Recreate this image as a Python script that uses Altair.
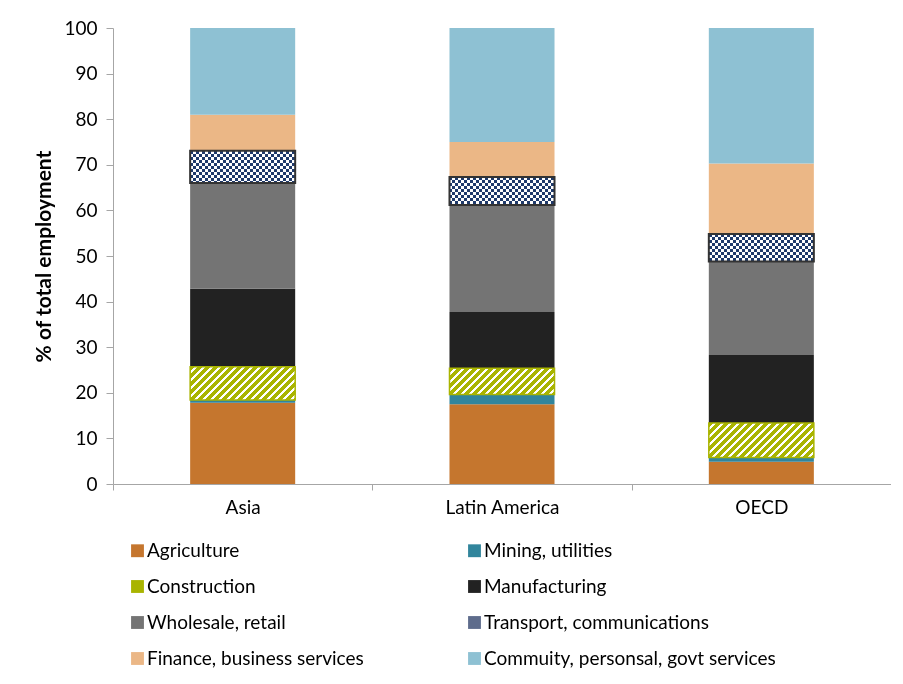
import altair as alt
import pandas as pd

regions = ["Asia", "Latin America", "OECD"]
sectors = ["Agriculture", "Mining, utilities", "Construction", "Manufacturing",
           "Wholesale, retail", "Transport, communications",
           "Finance, business services", "Commuity, personsal, govt services"]

agriculture = [17.8, 17.5, 4.9]
mining = [0.6, 2.1, 0.9]
construction = [7.3, 5.8, 7.6]
manufacturing = [17.1, 12.3, 14.9]
wholesale = [23.2, 23.5, 20.5]
transport = [7.1, 6.1, 6.0]
finance = [7.9, 7.7, 15.5]
community = [19.0, 25.0, 29.7]

series = [agriculture, mining, construction, manufacturing, wholesale,
          transport, finance, community]

sector_colors = ["#C5762E", "#31859C", "#A9B400", "#222222", "#747474",
                 "#5E6C8C", "#EBB786", "#8EC1D3"]

# legend is laid out column by column: reorder so rows read pairwise
legend_order = [0, 2, 4, 6, 1, 3, 5, 7]
legend_domain = [sectors[i] for i in legend_order]
legend_range = [sector_colors[i] for i in legend_order]

OLIVE = "#A9B400"
NAVY = "#1F3A6B"
FONT = "Lato"
FS = 19

PLOT_W = 778
PLOT_H = 456
PAD_INNER = 0.595
STEP = PLOT_W / 3
BAR_W = STEP * (1 - PAD_INNER)
PX_PER_UNIT = PLOT_H / 100.0

rows = []
for si, (s, vals) in enumerate(zip(sectors, series)):
    for r, v in zip(regions, vals):
        rows.append({"region": r, "sector": s, "value": v, "order": si})
df = pd.DataFrame(rows)


def stripe_stops(c1, c2, period, length, frac=0.5):
    stops = []
    k = 0.0
    while k * period < length:
        a = min(1.0, k * period / length)
        b = min(1.0, (k + frac) * period / length)
        c = min(1.0, (k + 1) * period / length)
        stops += [{"offset": a, "color": c1}, {"offset": b, "color": c1},
                  {"offset": b, "color": c2}, {"offset": c, "color": c2}]
        k += 1
    return stops


def diag_gradient(h):
    w = BAR_W
    s = (w + h) / (w * w + h * h)
    return {"gradient": "linear", "x1": 0, "y1": 0,
            "x2": w * s, "y2": h * s,
            "stops": stripe_stops(OLIVE, "#ffffff", 8, w + h, 0.55)}


base = alt.Chart(df).transform_stack(
    stack="value", groupby=["region"],
    sort=[alt.SortField("order", order="ascending")],
    as_=["y0", "y1"])

x_enc = alt.X("region:N", sort=regions,
              scale=alt.Scale(paddingInner=PAD_INNER, paddingOuter=PAD_INNER / 2),
              axis=alt.Axis(title=None, labelAngle=0, labelFont=FONT,
                            labelFontSize=FS, labelColor="#000000",
                            tickOffset=-STEP / 2, labelOffset=STEP / 2,
                            tickSize=6, labelPadding=8,
                            domainColor="#A6A6A6", tickColor="#A6A6A6"))
y_enc = alt.Y("y0:Q", scale=alt.Scale(domain=[0, 100], nice=False),
              axis=alt.Axis(title="% of total employment", titleFont=FONT,
                            titleFontSize=21, titleFontWeight="bold",
                            titleColor="#000000", labelFont=FONT,
                            labelFontSize=FS, labelColor="#000000",
                            values=list(range(0, 101, 10)), grid=False,
                            domainColor="#A6A6A6", tickColor="#A6A6A6",
                            tickSize=7, labelPadding=9, titlePadding=9))
x_plain = alt.X("region:N", sort=regions)
y_plain = alt.Y("y0:Q")

main = base.mark_bar().encode(
    x=x_enc, y=y_enc, y2="y1:Q",
    color=alt.Color("sector:N",
                    scale=alt.Scale(domain=legend_domain, range=legend_range),
                    legend=alt.Legend(title=None, orient="none", legendX=15,
                                      legendY=513, columns=2,
                                      symbolType="square", symbolSize=165,
                                      symbolStrokeWidth=0, labelFont=FONT,
                                      labelFontSize=FS, labelColor="#000000",
                                      labelLimit=500, labelOffset=0,
                                      rowPadding=16, columnPadding=101,
                                      padding=0)),
    order=alt.Order("order:Q"))

layers = [main]

# construction stripes
for r, v in zip(regions, construction):
    h = v * PX_PER_UNIT
    layers.append(
        base.transform_filter(
            (alt.datum.sector == "Construction") & (alt.datum.region == r)
        ).mark_bar(fill=diag_gradient(h), stroke=OLIVE, strokeWidth=1.5).encode(
            x=x_plain, y=y_plain, y2="y1:Q"))

# transport checker: vertical stripes, XOR with horizontal stripes, tint navy
tr_filter = alt.datum.sector == "Transport, communications"
vert = {"gradient": "linear", "x1": 0, "y1": 0, "x2": 1, "y2": 0,
        "stops": stripe_stops("#000000", "#ffffff", 6, BAR_W)}
layers.append(base.transform_filter(tr_filter).mark_bar(fill=vert).encode(
    x=x_plain, y=y_plain, y2="y1:Q"))
for r, v in zip(regions, transport):
    h = v * PX_PER_UNIT
    horiz = {"gradient": "linear", "x1": 0, "y1": 0, "x2": 0, "y2": 1,
             "stops": stripe_stops("#000000", "#ffffff", 6, h)}
    layers.append(
        base.transform_filter(tr_filter & (alt.datum.region == r)).mark_bar(
            fill=horiz, blend="difference").encode(
            x=x_plain, y=y_plain, y2="y1:Q"))
layers.append(base.transform_filter(tr_filter).mark_bar(
    fill=NAVY, blend="screen").encode(x=x_plain, y=y_plain, y2="y1:Q"))
layers.append(base.transform_filter(tr_filter).mark_bar(
    filled=False, stroke="#333333", strokeWidth=2).encode(
    x=x_plain, y=y_plain, y2="y1:Q"))

chart = alt.layer(*layers).properties(
    width=PLOT_W, height=PLOT_H,
    padding={"left": 25, "top": 11, "right": 0, "bottom": 0},
    background="#ffffff"
).configure_view(stroke=None)

chart.save("out.html", embed_options={"renderer": "svg", "actions": False})
